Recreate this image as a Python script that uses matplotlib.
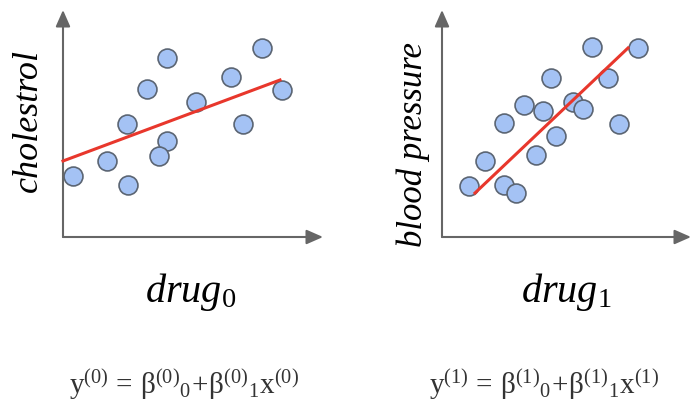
import matplotlib
matplotlib.use("Agg")
import matplotlib.pyplot as plt

plt.rcParams['mathtext.fontset'] = 'custom'
plt.rcParams['mathtext.rm'] = 'Liberation Serif'
plt.rcParams['mathtext.it'] = 'Liberation Serif:italic'
plt.rcParams['mathtext.bf'] = 'Liberation Serif:bold'

# left panel: drug 0 vs cholestrol
x0 = [1.0, 4.4, 6.5, 6.4, 8.4, 10.4, 10.4, 9.6, 13.3, 16.8, 18.0, 19.9, 21.9]
y0 = [6.1, 7.6, 5.2, 11.3, 14.8, 17.9, 9.6, 8.1, 13.5, 16.0, 11.3, 18.9, 14.7]
fit0_x = [0.0, 21.7]
fit0_y = [7.6, 15.7]

# right panel: drug 1 vs blood pressure
x1 = [2.7, 4.3, 6.2, 7.4, 6.2, 8.2, 9.4, 10.1, 10.9, 11.4, 13.1, 14.1, 15.0, 16.6, 17.7, 19.6]
y1 = [5.1, 7.6, 5.2, 4.4, 11.4, 13.2, 8.2, 12.6, 15.9, 10.1, 13.5, 12.8, 19.0, 15.9, 11.3, 18.9]
fit1_x = [3.3, 18.6]
fit1_y = [4.4, 18.9]

ylabels = ['cholestrol', 'blood pressure']
xlabels = [r'$\mathit{drug}_{0}$', r'$\mathit{drug}_{1}$']
formulas = [r'$\mathrm{y^{(0)}\,=\,β^{(0)}{}_{0}\!+\!β^{(0)}{}_{1}x^{(0)}}$',
            r'$\mathrm{y^{(1)}\,=\,β^{(1)}{}_{0}\!+\!β^{(1)}{}_{1}x^{(1)}}$']

W, H = 691, 405
fig = plt.figure(figsize=(W/100, H/100), dpi=100)

axcol = '#666666'
dotcol = '#a4c2f4'
edgecol = '#5b6573'
red = '#e8372c'

def panel(left_px, width_px, xs, ys, fx, fy):
    ax = fig.add_axes([left_px/W, (H-237)/H, width_px/W, 227/H])
    ax.set_xlim(0, width_px/10)
    ax.set_ylim(0, 22.7)
    ax.axis('off')
    ap = dict(arrowstyle='-|>,head_length=0.5,head_width=0.22', color=axcol,
              lw=1.5, mutation_scale=20, shrinkA=0, shrinkB=0)
    ax.annotate('', xy=(0, 1), xytext=(0, 0), xycoords='axes fraction', arrowprops=ap)
    ax.annotate('', xy=(1, 0), xytext=(0, 0), xycoords='axes fraction', arrowprops=ap)
    ax.plot(fx, fy, color=red, lw=2.2, zorder=3, clip_on=False)
    ax.scatter(xs, ys, s=185, c=dotcol, edgecolors=edgecol, linewidths=1.2,
               zorder=2, clip_on=False)
    return ax

panel(63, 260, x0, y0, fit0_x, fit0_y)
panel(442, 249, x1, y1, fit1_x, fit1_y)

fig.text(28/W, 1-120/H, ylabels[0], rotation=90, ha='center', va='center',
         family='Liberation Serif', style='italic', size=26)
fig.text(413/W, 1-145/H, ylabels[1], rotation=90, ha='center', va='center',
         family='Liberation Serif', style='italic', size=25)

fig.text(191/W, 1-292/H, xlabels[0], ha='center', va='center', size=29)
fig.text(566/W, 1-292/H, xlabels[1], ha='center', va='center', size=29)

fig.text(184/W, 1-385/H, formulas[0], ha='center', va='center', size=21, color='#333333')
fig.text(544/W, 1-385/H, formulas[1], ha='center', va='center', size=21, color='#333333')

fig.savefig('out.png', dpi=100, facecolor='white')
